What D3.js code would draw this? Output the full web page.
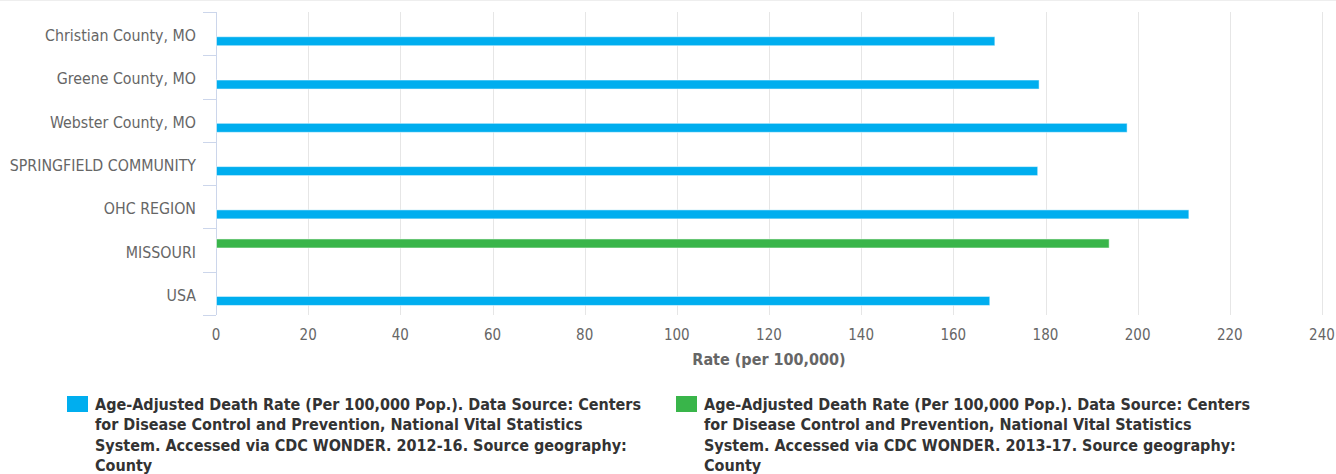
<!DOCTYPE html>
<html><head><meta charset="utf-8">
<script src="https://cdn.jsdelivr.net/npm/d3@7"></script>
<style>
html,body{margin:0;padding:0;background:#fff;}
svg{display:block;font-family:"DejaVu Sans Condensed","DejaVu Sans",sans-serif;}
</style></head>
<body><svg id="chart" width="1336" height="474"></svg>
<script>
const categories = ["Christian County, MO","Greene County, MO","Webster County, MO","SPRINGFIELD COMMUNITY","OHC REGION","MISSOURI","USA"];
const series2012 = [168.9, 178.5, 197.6, 178.2, 211.0, null, 167.8];
const series2013 = [null, null, null, null, null, 193.7, null];
const xTicks = [0,20,40,60,80,100,120,140,160,180,200,220,240];
const seriesNames = [
  "Age-Adjusted Death Rate (Per 100,000 Pop.). Data Source: Centers|for Disease Control and Prevention, National Vital Statistics|System. Accessed via CDC WONDER. 2012-16. Source geography:|County",
  "Age-Adjusted Death Rate (Per 100,000 Pop.). Data Source: Centers|for Disease Control and Prevention, National Vital Statistics|System. Accessed via CDC WONDER. 2013-17. Source geography:|County"
];
const colors = ["#00aeef", "#39b54a"];

(function(){
const svg = d3.select("#chart");
const pL = 216, pR = 1322, pT = 12, pB = 315;

const x = d3.scaleLinear().domain([0, 240]).range([pL, pR]);
const y = d3.scaleBand().domain(categories).range([pT, pB]);
const inner = d3.scaleBand().domain(["s2013","s2012"]).range([0, y.bandwidth()]).paddingInner(0).paddingOuter(0.525);
const barH = 9;

svg.append("line").attr("x1",0).attr("x2",1336).attr("y1",0.5).attr("y2",0.5).attr("stroke","#eeeeee");

svg.append("g").selectAll("line").data(xTicks).join("line")
  .attr("x1", d=>Math.round(x(d))+0.5).attr("x2", d=>Math.round(x(d))+0.5)
  .attr("y1", pT).attr("y2", pB)
  .attr("stroke", "#e6e6e6").attr("stroke-width", 1);

svg.append("g").selectAll("text").data(xTicks).join("text")
  .attr("x", d=>x(d)).attr("y", 340)
  .attr("text-anchor","middle").attr("fill","#666").attr("font-size","15px")
  .text(d=>d);

svg.append("text").attr("x",(pL+pR)/2).attr("y",365)
  .attr("text-anchor","middle").attr("fill","#666").attr("font-size","16px").attr("font-weight","bold")
  .text("Rate (per 100,000)");

const yAxis = svg.append("g");
yAxis.append("line").attr("x1",pL+0.5).attr("x2",pL+0.5).attr("y1",pT).attr("y2",pB)
  .attr("stroke","#ccd6eb");
const bounds = categories.map(c=>y(c)).concat([pB]);
yAxis.selectAll("line.tick").data(bounds).join("line").attr("class","tick")
  .attr("x1",pL-13).attr("x2",pL).attr("y1",d=>Math.round(d)+0.5).attr("y2",d=>Math.round(d)+0.5)
  .attr("stroke","#ccd6eb");
yAxis.selectAll("text").data(categories).join("text")
  .attr("x",196).attr("y",d=>y(d)+y.bandwidth()/2+2)
  .attr("dy","0.35em").attr("text-anchor","end").attr("fill","#666").attr("font-size","15.8px")
  .text(d=>d);

function drawSeries(vals, key, color){
  const data = categories.map((c,i)=>({c, v: vals[i]})).filter(d=>d.v!=null);
  svg.append("g").selectAll("rect").data(data).join("rect")
    .attr("x", x(0)+0.5)
    .attr("y", d=> y(d.c) + inner(key) + (inner.bandwidth()-barH)/2 + 0.5)
    .attr("width", d=> x(d.v)-x(0))
    .attr("height", barH)
    .attr("fill", color)
    .attr("stroke","#ffffff").attr("stroke-opacity",0.5).attr("stroke-width",1);
}
drawSeries(series2013, "s2013", colors[1]);
drawSeries(series2012, "s2012", colors[0]);

const legendItems = [
  {x: 67, tx: 95, name: seriesNames[0], color: colors[0]},
  {x: 676, tx: 704, name: seriesNames[1], color: colors[1]}
];
legendItems.forEach(it=>{
  svg.append("rect").attr("x",it.x).attr("y",396).attr("width",21).attr("height",16).attr("fill",it.color);
  const t = svg.append("text").attr("fill","#333")
    .attr("font-size","16px").attr("font-weight","bold");
  it.name.split("|").forEach((ln,i)=>{
    t.append("tspan").attr("x",it.tx).attr("y",410+i*20.3).text(ln);
  });
});
})();
</script></body></html>
